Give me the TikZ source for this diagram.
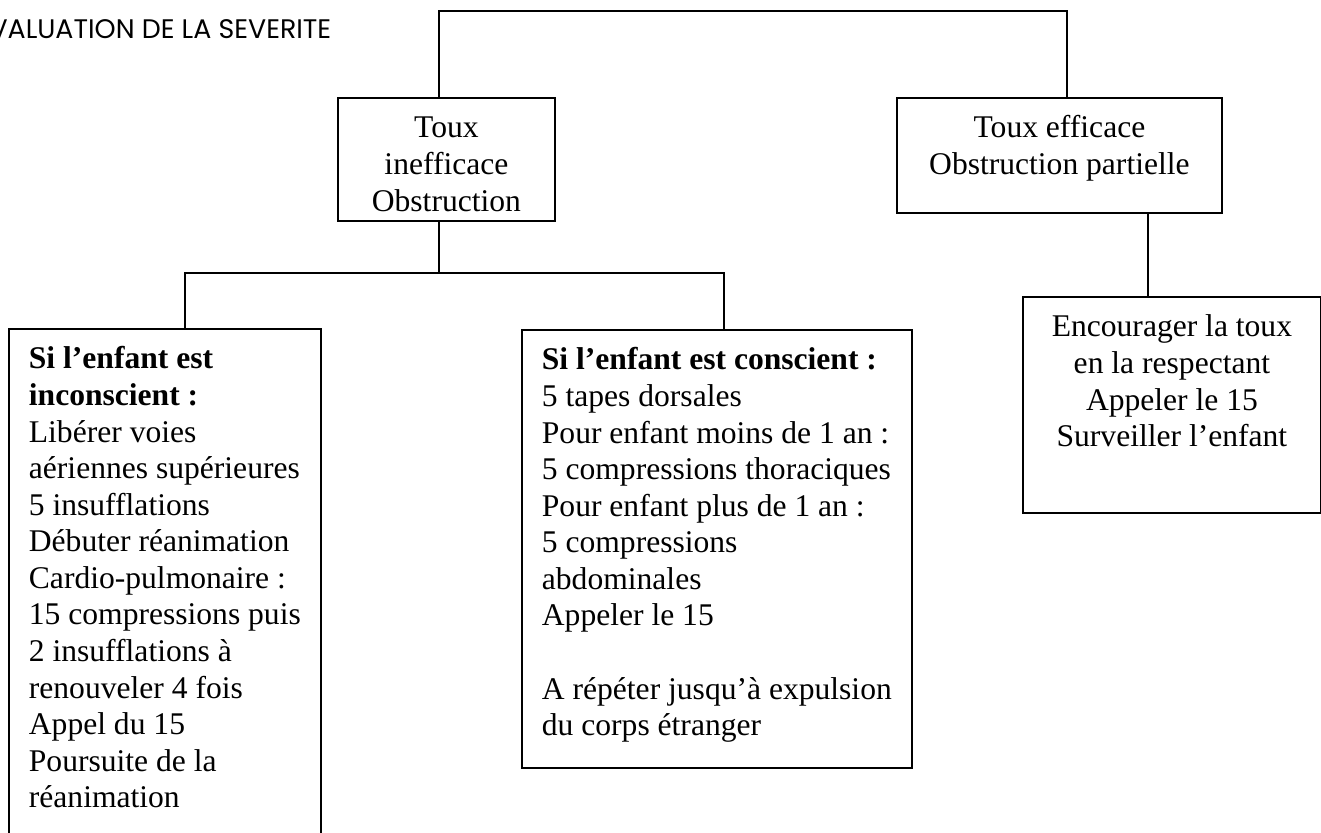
\documentclass[tikz,border=0pt]{standalone}
\usepackage{fontspec}
\setmainfont{Liberation Serif}
\newfontfamily\titlefont{Poppins}
\usepackage{tikz}

\newlength{\px}
\setlength{\px}{0.38pt}
\newcommand{\boxtxt}[4]{\parbox[c][#2\px][t]{#1\px}{#3\rule{0pt}{40\px}\ignorespaces#4}}

\tikzset{
  box/.style={draw, line width=0.7pt, anchor=north west, inner xsep=20\px, inner ysep=0pt, font=\fontsize{12}{13.9}\selectfont},
  wire/.style={line width=0.7pt}
}

\begin{document}
\begin{tikzpicture}[x=0.38pt, y=-0.38pt]
\useasboundingbox (0,0) rectangle (1321,833);

\node[anchor=base west, inner sep=0pt, font=\titlefont\fontsize{10.2}{12}\selectfont] (title) at (-11,39) {VALUATION DE LA SEVERITE};

\node[box] (ineff) at (337,97) {\boxtxt{177}{123}{\centering}{Toux\\inefficace\\Obstruction}};
\node[box] (effic) at (896,97) {\boxtxt{285}{115}{\centering}{Toux efficace\\Obstruction partielle}};
\node[box] (uncons) at (8,328) {\boxtxt{272}{522}{\raggedright}{\textbf{Si l’enfant est}\\\textbf{inconscient :}\\Libérer voies\\aériennes supérieures\\5 insufflations\\Débuter réanimation\\Cardio-pulmonaire :\\15 compressions puis\\2 insufflations à\\renouveler 4 fois\\Appel du 15\\Poursuite de la\\réanimation}};
\node[box] (cons) at (521,329) {\boxtxt{350}{438}{\raggedright}{\textbf{Si l’enfant est conscient :}\\5 tapes dorsales\\Pour enfant moins de 1 an :\\5 compressions thoraciques\\Pour enfant plus de 1 an :\\5 compressions\\abdominales\\Appeler le 15\\[13.9pt]A répéter jusqu’à expulsion\\du corps étranger}};
\node[box] (advice) at (1022,296) {\boxtxt{258}{216}{\centering}{Encourager la toux\\en la respectant\\Appeler le 15\\Surveiller l’enfant}};

\coordinate (topL) at (439,11);
\coordinate (topR) at (1067,11);
\coordinate (barL) at (185,273);
\coordinate (barR) at (724,273);
\coordinate (dropR) at (1148,212);

\draw[wire] (ineff.north -| topL) -- (topL) -- (topR) -- (effic.north -| topR);
\draw[wire] (ineff.south -| topL) -- (topL |- barL);
\draw[wire] (uncons.north -| barL) -- (barL) -- (barR) -- (cons.north -| barR);
\draw[wire] (effic.south -| dropR) -- (advice.north -| dropR);
\end{tikzpicture}
\end{document}
